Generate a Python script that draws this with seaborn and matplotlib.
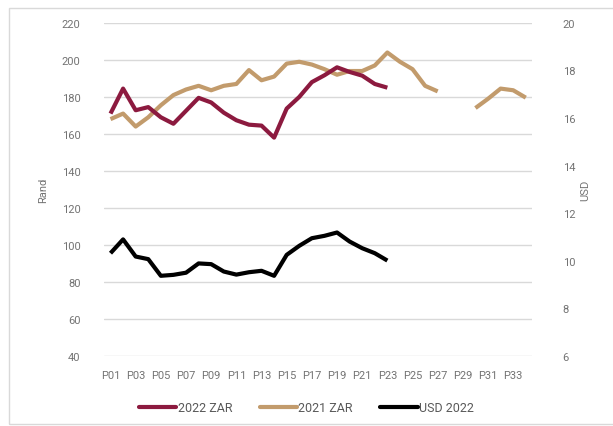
import numpy as np
import pandas as pd
import matplotlib
matplotlib.use("Agg")
import matplotlib.pyplot as plt
import seaborn as sns
from matplotlib.lines import Line2D
from matplotlib.patches import Rectangle

periods = [f"P{i:02d}" for i in range(1, 35)]
tick_labels = [f"P{i:02d}" for i in range(1, 34, 2)]

zar_2022 = [171, 184.5, 172.8, 174.5, 169, 165.5, 172.5, 179.5, 177, 171.5, 167.4, 165,
            164.5, 158, 173.7, 180, 188, 191.7, 196, 193.5, 191.5, 187, 185]
zar_2021 = [168, 171, 164, 169, 175.5, 181, 184, 186, 183.6, 186, 187, 194.5,
            189, 191, 198, 199, 197.5, 195, 192, 194, 194, 197, 204, 199,
            195, 186, 183, np.nan, np.nan, 174, 179, 184.5, 183.6, 179.6]
usd_2022 = [10.32, 10.9, 10.18, 10.07, 9.37, 9.41, 9.5, 9.89, 9.86, 9.55, 9.42, 9.52,
            9.58, 9.37, 10.25, 10.63, 10.95, 11.05, 11.19, 10.81, 10.53, 10.32, 10.01]

c_2022 = "#8c1a3f"
c_2021 = "#c29b6c"
c_usd = "#000000"
grey = "#737373"

sns.set_theme(style="white")
plt.rcParams["font.family"] = ["Liberation Sans Narrow", "Roboto", "DejaVu Sans"]

fig = plt.figure(figsize=(6.13, 4.27), dpi=100)
ax = fig.add_axes([0.170, 0.164, 0.698, 0.780])
ax2 = ax.twinx()

x_all = np.arange(len(periods))
df22 = pd.DataFrame({"x": x_all[:len(zar_2022)], "y": zar_2022})
df21 = pd.DataFrame({"x": x_all, "y": zar_2021})
dfusd = pd.DataFrame({"x": x_all[:len(usd_2022)], "y": usd_2022})

lw = 3.0
# 2021 segments (gap where data missing)
seg = df21["y"].isna().cumsum()
for _, part in df21[df21["y"].notna()].groupby(seg[df21["y"].notna()]):
    sns.lineplot(data=part, x="x", y="y", ax=ax, color=c_2021, linewidth=lw,
                 solid_capstyle="butt", legend=False)
sns.lineplot(data=df22, x="x", y="y", ax=ax, color=c_2022, linewidth=lw,
             solid_capstyle="butt", legend=False)
sns.lineplot(data=dfusd, x="x", y="y", ax=ax2, color=c_usd, linewidth=lw,
             solid_capstyle="butt", legend=False)

ax.set_xlim(-0.5, len(periods) - 0.5)
ax.set_ylim(40, 220)
ax.set_yticks(np.arange(40, 221, 20))
ax2.set_ylim(6, 20)
ax2.set_yticks(np.arange(6, 21, 2))
ax.set_xticks(np.arange(0, 34, 2))
ax.set_xticklabels(tick_labels)

ax.yaxis.grid(True, color="#d9d9d9", linewidth=1.0)
ax.set_axisbelow(True)
for a in (ax, ax2):
    for s in a.spines.values():
        s.set_visible(False)
    a.tick_params(axis="both", length=0, labelsize=8, labelcolor=grey)
ax.tick_params(axis="y", pad=17)
ax2.tick_params(axis="y", pad=22)
ax.tick_params(axis="x", pad=10)

ax.set_xlabel("")
ax.set_ylabel("Rand", color=grey, fontsize=8, labelpad=10)
ax2.set_ylabel("USD", color=grey, fontsize=8, labelpad=4)

handles = [Line2D([0], [0], color=c_2022, lw=lw),
           Line2D([0], [0], color=c_2021, lw=lw),
           Line2D([0], [0], color=c_usd, lw=lw)]
leg = fig.legend(handles, ["2022 ZAR", "2021 ZAR", "USD 2022"], loc="center",
                 bbox_to_anchor=(0.50, 0.043), ncol=3, frameon=False, fontsize=9,
                 handlelength=3.0, handletextpad=0.1, columnspacing=2.2)
for t in leg.get_texts():
    t.set_color("#595959")

fig.patches.append(Rectangle((9 / 613, 0.005), 1.2, 1 - 9 / 427 - 0.005,
                             transform=fig.transFigure, fill=False,
                             edgecolor="#d9d9d9", linewidth=1.0))

fig.savefig("out.png", dpi=100)
